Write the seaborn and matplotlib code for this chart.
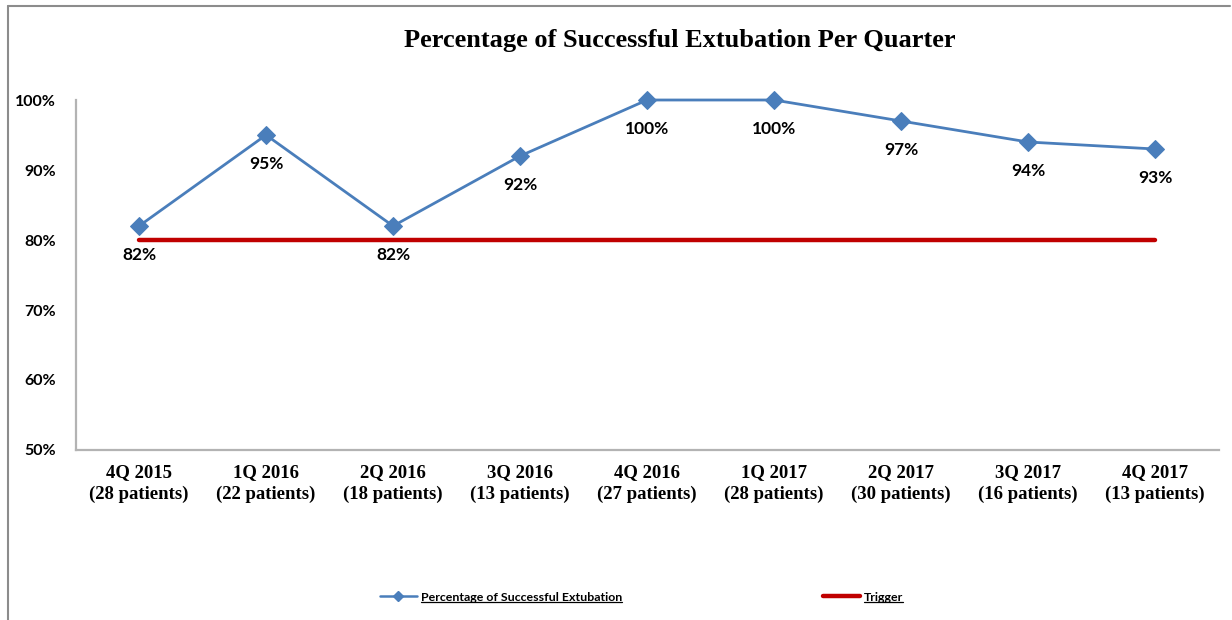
import matplotlib
matplotlib.use("Agg")
import matplotlib.pyplot as plt
import seaborn as sns
import pandas as pd
from matplotlib.lines import Line2D
from matplotlib.ticker import FuncFormatter

quarters = ["4Q 2015", "1Q 2016", "2Q 2016", "3Q 2016", "4Q 2016",
            "1Q 2017", "2Q 2017", "3Q 2017", "4Q 2017"]
patients = [28, 22, 18, 13, 27, 28, 30, 16, 13]
success_pct = [82, 95, 82, 92, 100, 100, 97, 94, 93]
trigger_pct = [80] * len(quarters)

labels = [f"{q}\n({n} patients)" for q, n in zip(quarters, patients)]
df = pd.DataFrame({"quarter": labels, "success": success_pct, "trigger": trigger_pct})

sns.set_style("white")
plt.rcParams['font.family'] = ['Lato', 'DejaVu Sans']
plt.rcParams['text.color'] = 'black'
plt.rcParams['xtick.color'] = 'black'
plt.rcParams['ytick.color'] = 'black'

blue = "#4A7EBB"
red = "#C00000"

fig = plt.figure(figsize=(12.32, 6.2), dpi=100)
ax = fig.add_axes([0.0613, 0.2742, 0.9278, 0.5645])

sns.lineplot(data=df, x="quarter", y="trigger", ax=ax, color=red, lw=3.2,
             label="Trigger", legend=False)
sns.lineplot(data=df, x="quarter", y="success", ax=ax, color=blue, lw=2.0,
             marker="D", markersize=9, markeredgecolor=blue,
             label="Percentage of Successful Extubation", legend=False)
for ln in ax.lines:
    ln.set_clip_on(False)

# data labels under each point
for i, v in enumerate(success_pct):
    ax.annotate(f"{v}%", (i, v), xytext=(0, -21), textcoords="offset points",
                ha="center", va="center", fontsize=12.5, fontweight="bold",
                color="black")

ax.set_xlim(-0.5, len(quarters) - 0.5)
ax.set_ylim(50, 100)
ax.set_yticks(range(50, 101, 10))
ax.yaxis.set_major_formatter(FuncFormatter(lambda v, p: f"{v:.0f}%"))
ax.set_xlabel("")
ax.set_ylabel("")

for s in ["top", "right"]:
    ax.spines[s].set_visible(False)
for s in ["left", "bottom"]:
    ax.spines[s].set_color("#b3b3b3")
    ax.spines[s].set_linewidth(1.6)

ax.tick_params(axis="both", length=0)
ax.tick_params(axis="y", pad=14)
ax.tick_params(axis="x", pad=10)
for t in ax.get_yticklabels():
    t.set_fontsize(11.5)
    t.set_fontweight("bold")
for t in ax.get_xticklabels():
    t.set_family("Liberation Serif")
    t.set_fontsize(13.5)
    t.set_fontweight("bold")
    t.set_linespacing(1.4)

fig.text(0.552, 0.935, "Percentage of Successful Extubation Per Quarter",
         ha="center", va="center", fontsize=19, fontweight="bold",
         family="Liberation Serif")

# legend at the bottom
handles = [Line2D([0], [0], color=blue, lw=1.8, marker="D", markersize=5),
           Line2D([0], [0], color=red, lw=3.2)]
leg = fig.legend(handles, ["Percentage of Successful Extubation", "Trigger"],
                 loc="center", bbox_to_anchor=(0.5207, 0.037), ncol=2,
                 frameon=False, handlelength=3.0, handletextpad=0.3,
                 columnspacing=16.3, prop={"size": 8.9, "weight": "bold"})

# underline legend texts
fig.canvas.draw()
renderer = fig.canvas.get_renderer()
inv = fig.transFigure.inverted()
for txt in leg.get_texts():
    bb = txt.get_window_extent(renderer)
    (x0, y0), (x1, y1) = inv.transform([(bb.x0, bb.y0), (bb.x1, bb.y1)])
    fig.add_artist(Line2D([x0, x1], [y0 + 0.001, y0 + 0.001],
                          transform=fig.transFigure, color="black", lw=0.9))

# outer chart border (left and top)
fig.add_artist(Line2D([8 / 1232, 8 / 1232], [0, 1 - 6 / 620],
                      transform=fig.transFigure, color="#8c8c8c", lw=1.5))
fig.add_artist(Line2D([8 / 1232, 1230 / 1232], [1 - 6 / 620, 1 - 6 / 620],
                      transform=fig.transFigure, color="#8c8c8c", lw=1.5))

fig.savefig("out.png", dpi=100)
